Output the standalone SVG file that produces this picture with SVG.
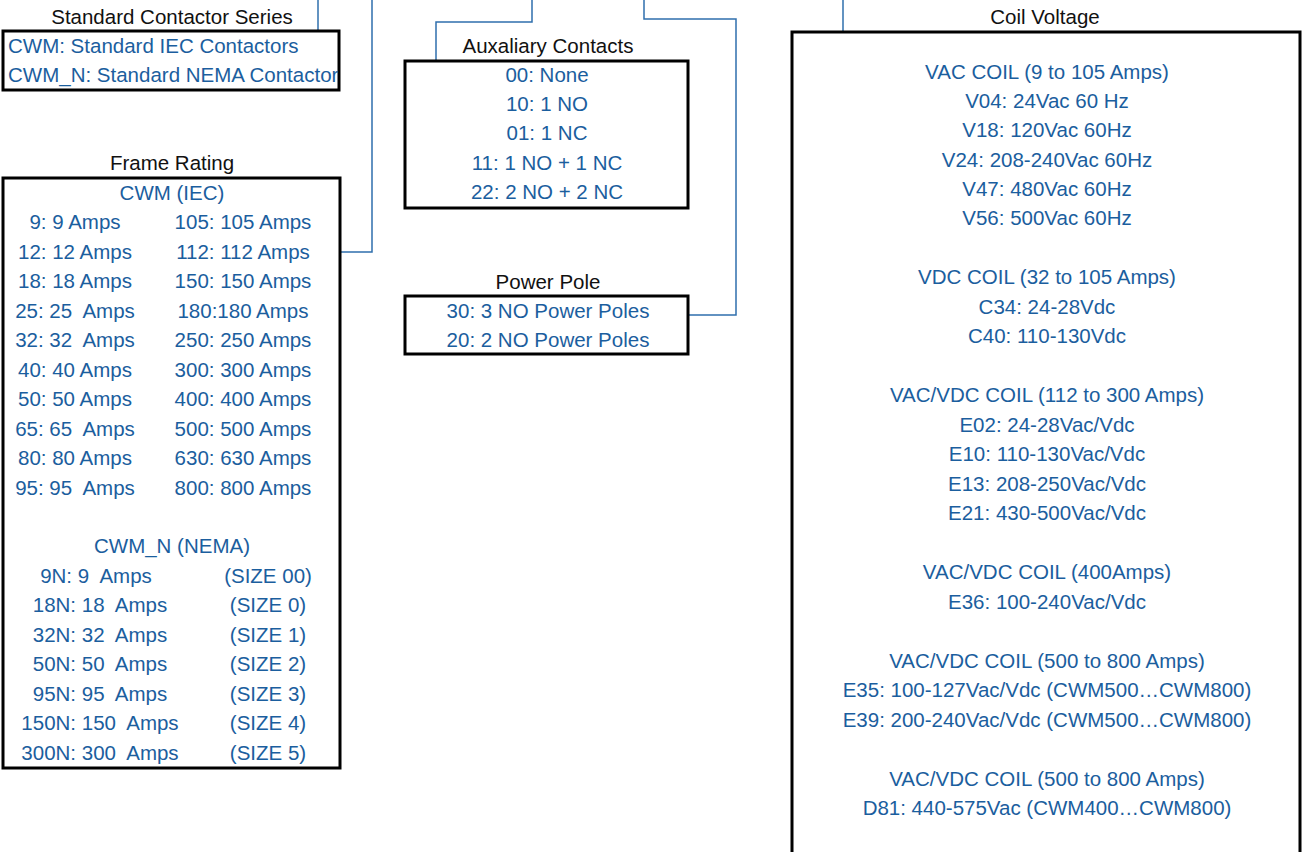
<svg xmlns="http://www.w3.org/2000/svg" width="1304" height="852" viewBox="0 0 1304 852">
<style>
text{font-family:"Liberation Sans",Arial,sans-serif;font-size:20.5px}
.t{fill:#111}
.b{fill:#1b5e9e}
.c{text-anchor:middle}
.box{fill:#fff;stroke:#000;stroke-width:3}
.ln{fill:none;stroke:#2f6fad;stroke-width:1.5}
</style>
<rect width="1304" height="852" fill="#fff"/>
<g id="connectors">
<path class="ln" d="M318,0 V31"/>
<path class="ln" d="M372,0 V252 H340"/>
<path class="ln" d="M532,0 V22 H436 V61"/>
<path class="ln" d="M644,0 V19 H736 V315 H689"/>
<path class="ln" d="M843,0 V31"/>
</g>
<g id="series">
<text class="t c" x="172" y="24">Standard Contactor Series</text>
<rect class="box" x="3" y="31" width="336" height="59"/>
<text class="b" x="8" y="53">CWM: Standard IEC Contactors</text>
<text class="b" x="8" y="82">CWM_N: Standard NEMA Contactor</text>
</g>
<g id="frame">
<text class="t c" x="172" y="170">Frame Rating</text>
<rect class="box" x="3" y="178" width="337" height="590"/>
<g class="b c">
<text x="172" y="200">CWM (IEC)</text>
<text x="75" y="229">9: 9 Amps</text><text x="243" y="229">105: 105 Amps</text>
<text x="75" y="259">12: 12 Amps</text><text x="243" y="259">112: 112 Amps</text>
<text x="75" y="288">18: 18 Amps</text><text x="243" y="288">150: 150 Amps</text>
<text x="75" y="318">25: 25&#160; Amps</text><text x="243" y="318">180:180 Amps</text>
<text x="75" y="347">32: 32&#160; Amps</text><text x="243" y="347">250: 250 Amps</text>
<text x="75" y="377">40: 40 Amps</text><text x="243" y="377">300: 300 Amps</text>
<text x="75" y="406">50: 50 Amps</text><text x="243" y="406">400: 400 Amps</text>
<text x="75" y="436">65: 65&#160; Amps</text><text x="243" y="436">500: 500 Amps</text>
<text x="75" y="465">80: 80 Amps</text><text x="243" y="465">630: 630 Amps</text>
<text x="75" y="495">95: 95&#160; Amps</text><text x="243" y="495">800: 800 Amps</text>
<text x="172" y="553">CWM_N (NEMA)</text>
<text x="96" y="583">9N: 9&#160; Amps</text><text x="268" y="583">(SIZE 00)</text>
<text x="100" y="612">18N: 18&#160; Amps</text><text x="268" y="612">(SIZE 0)</text>
<text x="100" y="642">32N: 32&#160; Amps</text><text x="268" y="642">(SIZE 1)</text>
<text x="100" y="671">50N: 50&#160; Amps</text><text x="268" y="671">(SIZE 2)</text>
<text x="100" y="701">95N: 95&#160; Amps</text><text x="268" y="701">(SIZE 3)</text>
<text x="100" y="730">150N: 150&#160; Amps</text><text x="268" y="730">(SIZE 4)</text>
<text x="100" y="760">300N: 300&#160; Amps</text><text x="268" y="760">(SIZE 5)</text>
</g>
</g>
<g id="aux">
<text class="t c" x="548" y="53">Auxaliary Contacts</text>
<rect class="box" x="405" y="61" width="283" height="147"/>
<g class="b c">
<text x="547" y="82">00: None</text>
<text x="547" y="111">10: 1 NO</text>
<text x="547" y="140">01: 1 NC</text>
<text x="547" y="170">11: 1 NO + 1 NC</text>
<text x="547" y="199">22: 2 NO + 2 NC</text>
</g>
</g>
<g id="pole">
<text class="t c" x="548" y="289">Power Pole</text>
<rect class="box" x="405" y="296" width="283" height="58"/>
<g class="b c">
<text x="548" y="318">30: 3 NO Power Poles</text>
<text x="548" y="347">20: 2 NO Power Poles</text>
</g>
</g>
<g id="coil">
<text class="t c" x="1045" y="24">Coil Voltage</text>
<path class="box" d="M792,860 V32 H1300 V860"/>
<g class="b c">
<text x="1047" y="79">VAC COIL (9 to 105 Amps)</text>
<text x="1047" y="108">V04: 24Vac 60 Hz</text>
<text x="1047" y="137">V18: 120Vac 60Hz</text>
<text x="1047" y="167">V24: 208-240Vac 60Hz</text>
<text x="1047" y="196">V47: 480Vac 60Hz</text>
<text x="1047" y="225">V56: 500Vac 60Hz</text>
<text x="1047" y="284">VDC COIL (32 to 105 Amps)</text>
<text x="1047" y="314">C34: 24-28Vdc</text>
<text x="1047" y="343">C40: 110-130Vdc</text>
<text x="1047" y="402">VAC/VDC COIL (112 to 300 Amps)</text>
<text x="1047" y="432">E02: 24-28Vac/Vdc</text>
<text x="1047" y="461">E10: 110-130Vac/Vdc</text>
<text x="1047" y="491">E13: 208-250Vac/Vdc</text>
<text x="1047" y="520">E21: 430-500Vac/Vdc</text>
<text x="1047" y="579">VAC/VDC COIL (400Amps)</text>
<text x="1047" y="609">E36: 100-240Vac/Vdc</text>
<text x="1047" y="668">VAC/VDC COIL (500 to 800 Amps)</text>
<text x="1047" y="697">E35: 100-127Vac/Vdc (CWM500…CWM800)</text>
<text x="1047" y="727">E39: 200-240Vac/Vdc (CWM500…CWM800)</text>
<text x="1047" y="786">VAC/VDC COIL (500 to 800 Amps)</text>
<text x="1047" y="815">D81: 440-575Vac (CWM400…CWM800)</text>
</g>
</g>
</svg>
